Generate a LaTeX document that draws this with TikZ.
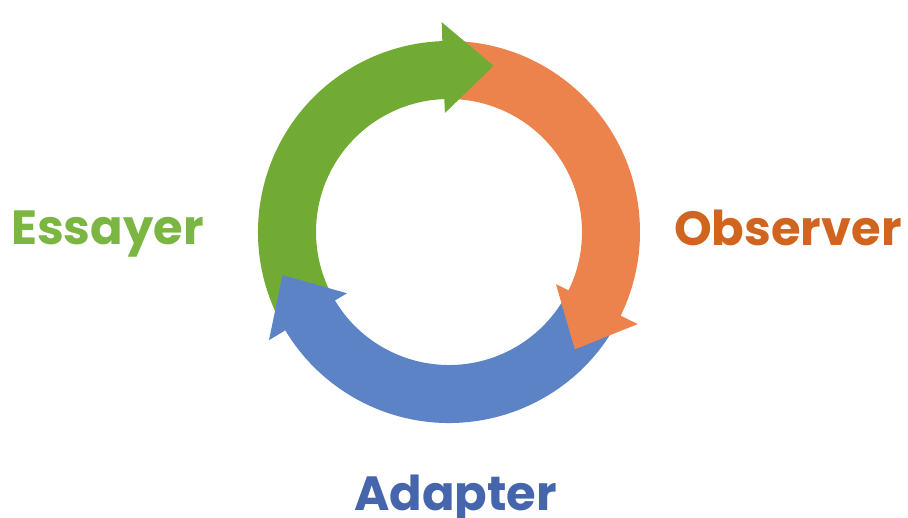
\documentclass[tikz,border=0pt]{standalone}
\usepackage{fontspec}
\setmainfont{Poppins}
\usepackage{tikz}
\usetikzlibrary{calc}

\definecolor{ringGreen}{RGB}{114,171,52}
\definecolor{ringOrange}{RGB}{236,130,76}
\definecolor{ringBlue}{RGB}{92,131,197}
\definecolor{textGreen}{RGB}{124,182,66}
\definecolor{textOrange}{RGB}{209,101,31}
\definecolor{textBlue}{RGB}{69,101,172}

\begin{document}
\begin{tikzpicture}[x=1pt, y=1pt,
    steplabel/.style={inner sep=0pt, anchor=base west, font=\bfseries\fontsize{48}{48}\selectfont}]
    \useasboundingbox (0,0) rectangle (908,517);
    \coordinate (c) at (449,285);
    % ring bodies
    \fill [ringBlue] ($(c)+(-27:191)$) arc [start angle=-27, end angle=-152, radius=191pt]
        -- ($(c)+(-152:133)$) arc [start angle=-152, end angle=-27, radius=133pt] -- cycle;
    \fill [ringGreen] ($(c)+(210:191)$) arc [start angle=210, end angle=89, radius=191pt]
        -- ($(c)+(89:133)$) arc [start angle=89, end angle=210, radius=133pt] -- cycle;
    \fill [ringOrange] ($(c)+(91:191)$) arc [start angle=91, end angle=-29, radius=191pt]
        -- ($(c)+(-29:133)$) arc [start angle=-29, end angle=91, radius=133pt] -- cycle;
    % heads
    \fill [ringGreen] ($(c)+(92:210)$) -- ($(c)+(75:172)$) -- ($(c)+(92:119)$) -- cycle;
    \fill [ringOrange] ($(c)+(-26:210)$) -- ($(c)+(-43:172)$) -- ($(c)+(-26:119)$) -- cycle;
    \fill [ringBlue] ($(c)+(211:210)$) -- ($(c)+(194.5:172)$) -- ($(c)+(211:119)$) -- cycle;
    % labels
    \node [steplabel, text=textGreen] (essayer) at (11,272) {Essayer};
    \node [steplabel, text=textOrange] (observer) at (674,271) {Observer};
    \node [steplabel, text=textBlue] (adapter) at (354,7) {Adapter};
\end{tikzpicture}
\end{document}
